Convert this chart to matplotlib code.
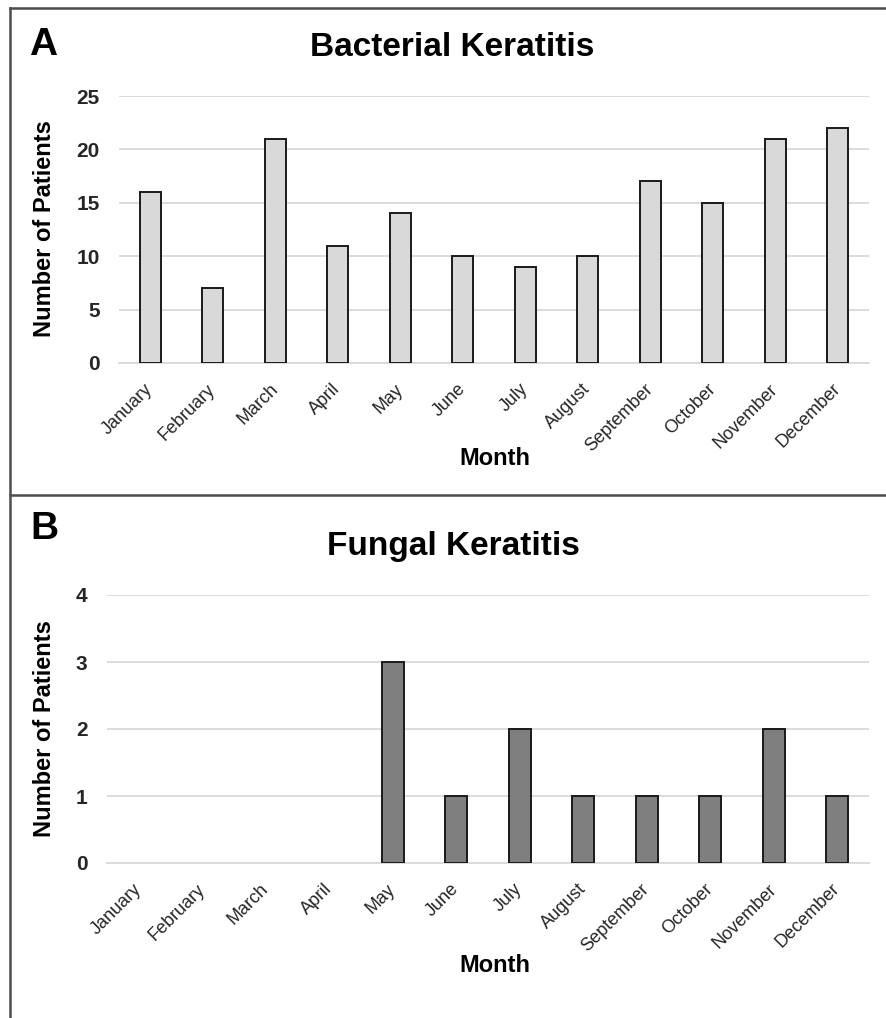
import matplotlib
matplotlib.use("Agg")
import matplotlib.pyplot as plt
from matplotlib.lines import Line2D

plt.rcParams["font.family"] = ["Liberation Sans", "DejaVu Sans"]

months = ["January", "February", "March", "April", "May", "June", "July",
          "August", "September", "October", "November", "December"]
bacterial = [16, 7, 21, 11, 14, 10, 9, 10, 17, 15, 21, 22]
fungal = [0, 0, 0, 0, 3, 1, 2, 1, 1, 1, 2, 1]

W, H = 886, 1018
fig = plt.figure(figsize=(W / 100, H / 100), dpi=100)


def px_axes(left, top, right, bottom):
    return fig.add_axes([left / W, 1 - bottom / H, (right - left) / W, (bottom - top) / H])


def ftext(x, y, s, **kw):
    fig.text(x / W, 1 - y / H, s, **kw)


def panel(ax, values, color, ymax, step):
    x = list(range(len(months)))
    # empty months get no outline (Excel draws nothing for 0)
    lws = [1.4 if v > 0 else 0 for v in values]
    ax.bar(x, values, width=0.34, color=color, edgecolor="#1a1a1a", linewidth=lws, zorder=3)
    ax.set_xlim(-0.5, len(months) - 0.5)
    ax.set_ylim(0, ymax)
    ax.set_yticks(range(0, ymax + 1, step))
    ax.yaxis.grid(True, color="#d9d9d9", linewidth=1.3)
    ax.set_axisbelow(True)
    for side in ["top", "right", "left"]:
        ax.spines[side].set_visible(False)
    ax.spines["bottom"].set_color("#d9d9d9")
    ax.spines["bottom"].set_linewidth(1.3)
    ax.set_xticks(x)
    ax.set_xticklabels(months, rotation=45, ha="right", va="center",
                       rotation_mode="anchor", fontsize=13, color="#262626")
    ax.tick_params(axis="x", length=0, pad=17)
    ax.tick_params(axis="y", length=0, pad=14, labelsize=15)
    for lab in ax.get_yticklabels():
        lab.set_fontweight("bold")
        lab.set_color("#262626")


# Panel A
axA = px_axes(119, 96, 869, 363)
panel(axA, bacterial, "#d9d9d9", 25, 5)
ftext(452, 47, "Bacterial Keratitis", fontsize=24, fontweight="bold", ha="center", va="center")
ftext(43, 45, "A", fontsize=28, fontweight="bold", ha="center", va="center")
ftext(495, 459, "Month", fontsize=17, fontweight="bold", ha="center", va="center")
ftext(45, 229, "Number of Patients", fontsize=17, fontweight="bold", ha="center",
      va="center", rotation=90)

# Panel B
axB = px_axes(107, 595, 869, 863)
panel(axB, fungal, "#7f7f7f", 4, 1)
ftext(453, 546, "Fungal Keratitis", fontsize=24, fontweight="bold", ha="center", va="center")
ftext(44, 529, "B", fontsize=28, fontweight="bold", ha="center", va="center")
ftext(495, 966, "Month", fontsize=17, fontweight="bold", ha="center", va="center")
ftext(45, 729, "Number of Patients", fontsize=17, fontweight="bold", ha="center",
      va="center", rotation=90)

# panel borders
bc = "#4d4d4d"
for xs, ys in [([10, 10], [8, H]), ([10, W], [8, 8]), ([10, W], [495, 495])]:
    fig.add_artist(Line2D([v / W for v in xs], [1 - v / H for v in ys],
                          transform=fig.transFigure, color=bc, linewidth=1.8))

fig.savefig("out.png", dpi=100)
